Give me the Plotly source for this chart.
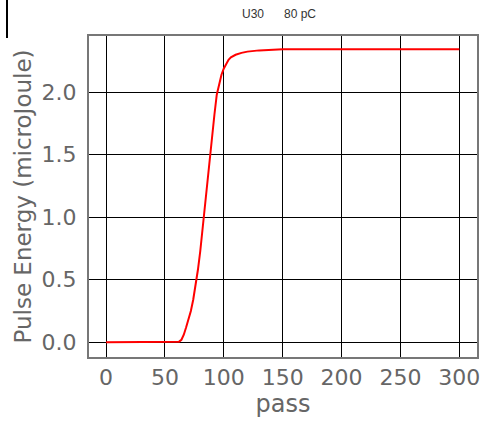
import plotly.graph_objects as go

passes = [0, 10, 20, 30, 40, 50, 58, 60, 62, 64, 66, 68, 70, 72, 74, 76, 78, 80, 82, 84, 86, 88,
          90, 92, 94, 96, 98, 100, 102, 104, 106, 110, 115, 120, 130, 140, 150, 200, 250, 300]
energy = [0.0, 0.0, 0.0, 0.0, 0.0, 0.0, 0.0, 0.0, 0.005, 0.02, 0.06, 0.12, 0.18, 0.25, 0.34, 0.45,
          0.58, 0.73, 0.92, 1.10, 1.30, 1.50, 1.66, 1.82, 1.98, 2.07, 2.14, 2.19, 2.23, 2.26, 2.28,
          2.30, 2.315, 2.325, 2.335, 2.34, 2.345, 2.345, 2.345, 2.345]
x_ticks = [0, 50, 100, 150, 200, 250, 300]
y_ticks = [0.0, 0.5, 1.0, 1.5, 2.0]
title_text = "U30&nbsp;&nbsp;&nbsp;&nbsp;&nbsp;&nbsp;80 pC"

W, H = 483, 425
L, R, T, B = 89, 6, 36, 68

fig = go.Figure()
fig.add_trace(go.Scatter(x=passes, y=energy, mode="lines",
                         line=dict(color="#ff0000", width=2), showlegend=False))

tick_font = dict(family="DejaVu Sans", size=22, color="#666666")
fig.update_layout(
    width=W, height=H,
    margin=dict(l=L, r=R, t=T, b=B, autoexpand=False),
    paper_bgcolor="white", plot_bgcolor="white",
    title=dict(text=title_text, x=279 / W, xanchor="center",
               y=1 - 14 / H, yanchor="middle",
               font=dict(family="Liberation Sans", size=12, color="#333333")),
    xaxis=dict(range=[-14.5, 315], tickvals=x_ticks, ticktext=[str(v) for v in x_ticks],
               showgrid=True, gridcolor="black", gridwidth=1, zeroline=False,
               showline=True, linecolor="#777777", linewidth=2, mirror=True,
               ticks="", ticklabelstandoff=0, tickfont=tick_font, automargin=False,
               title=dict(text="pass", font=dict(family="DejaVu Sans", size=24, color="#666666"),
                          standoff=2)),
    yaxis=dict(range=[-0.118, 2.45], tickvals=y_ticks, ticktext=[f"{v:.1f}" for v in y_ticks],
               showgrid=True, gridcolor="black", gridwidth=1, zeroline=False,
               showline=True, linecolor="#777777", linewidth=2, mirror=True,
               ticks="", ticklabelstandoff=6, tickfont=tick_font, automargin=False,
               title=dict(text="Pulse Energy (microJoule)",
                          font=dict(family="DejaVu Sans", size=23, color="#666666"),
                          standoff=4)),
)

pw = W - L - R
ph = H - T - B
fig.add_shape(type="line", xref="paper", yref="paper",
              x0=(7 - L) / pw, x1=(7 - L) / pw,
              y0=1 + T / ph, y1=1 + (T - 38) / ph,
              line=dict(color="black", width=2))

fig.write_html("out.html", config={"displayModeBar": False},
               post_script="document.body.style.margin='0';")
